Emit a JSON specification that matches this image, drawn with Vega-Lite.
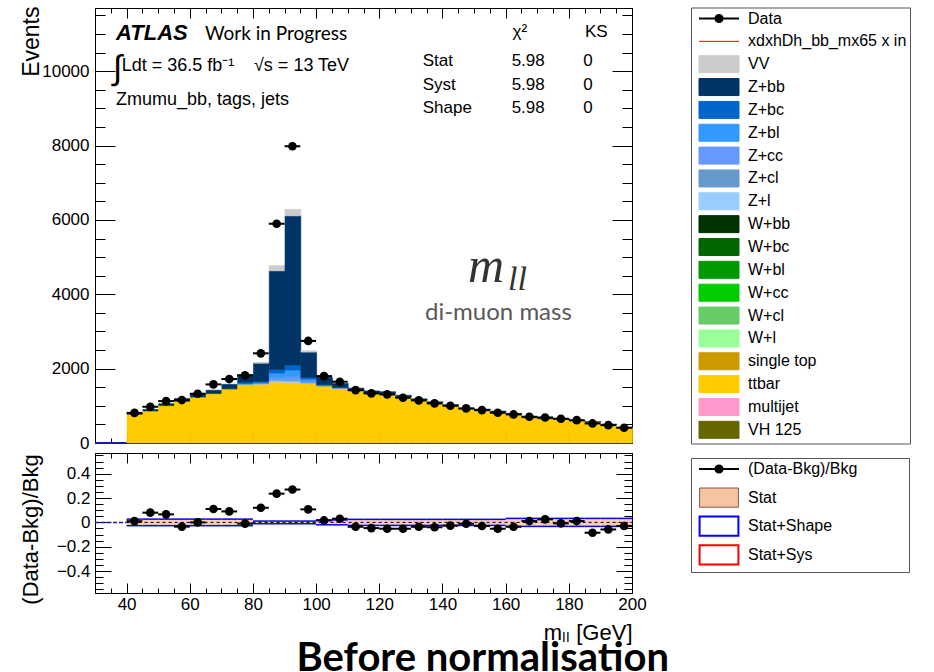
{
  "$schema": "https://vega.github.io/schema/vega-lite/v6.json",
  "background": "white",
  "padding": {"left": 19, "top": 6, "right": 0, "bottom": 0},
  "spacing": 10,
  "bounds": "flush",
  "title": {"text": "Before normalisation", "orient": "bottom", "anchor": "middle", "font": "Lato", "fontSize": 40, "fontWeight": "bold", "color": "black", "dx": 18, "offset": -4},
  "resolve": {"scale": {"color": "independent", "stroke": "independent"}},
  "config": {
    "font": "Liberation Sans",
    "view": {"stroke": null},
    "axis": {"grid": false, "domainColor": "black", "tickColor": "black", "labelColor": "black", "titleColor": "black", "labelFont": "Liberation Sans", "titleFont": "Liberation Sans", "titleFontWeight": "normal", "zindex": 2}
  },
  "datasets": {
    "bins": [
      {"lo": 40, "hi": 45, "c": 42.5, "n": 810, "r": 0.01, "elo": -0.027, "ehi": 0.027},
      {"lo": 45, "hi": 50, "c": 47.5, "n": 975, "r": 0.08, "elo": -0.027, "ehi": 0.027},
      {"lo": 50, "hi": 55, "c": 52.5, "n": 1127, "r": 0.066, "elo": -0.027, "ehi": 0.027},
      {"lo": 55, "hi": 60, "c": 57.5, "n": 1155, "r": -0.035, "elo": -0.027, "ehi": 0.027},
      {"lo": 60, "hi": 65, "c": 62.5, "n": 1325, "r": 0.0, "elo": -0.027, "ehi": 0.027},
      {"lo": 65, "hi": 70, "c": 67.5, "n": 1576, "r": 0.11, "elo": -0.027, "ehi": 0.027},
      {"lo": 70, "hi": 75, "c": 72.5, "n": 1720, "r": 0.09, "elo": -0.027, "ehi": 0.027},
      {"lo": 75, "hi": 80, "c": 77.5, "n": 1820, "r": -0.01, "elo": -0.027, "ehi": 0.027},
      {"lo": 80, "hi": 85, "c": 82.5, "n": 2412, "r": 0.12, "elo": -0.011, "ehi": 0.011},
      {"lo": 85, "hi": 90, "c": 87.5, "n": 5897, "r": 0.236, "elo": -0.011, "ehi": 0.011},
      {"lo": 90, "hi": 95, "c": 92.5, "n": 7982, "r": 0.27, "elo": -0.011, "ehi": 0.011},
      {"lo": 95, "hi": 100, "c": 97.5, "n": 2745, "r": 0.107, "elo": -0.011, "ehi": 0.011},
      {"lo": 100, "hi": 105, "c": 102.5, "n": 1800, "r": 0.016, "elo": -0.02, "ehi": 0.02},
      {"lo": 105, "hi": 110, "c": 107.5, "n": 1648, "r": 0.03, "elo": -0.02, "ehi": 0.02},
      {"lo": 110, "hi": 115, "c": 112.5, "n": 1423, "r": -0.036, "elo": -0.025, "ehi": 0.025},
      {"lo": 115, "hi": 120, "c": 117.5, "n": 1334, "r": -0.047, "elo": -0.025, "ehi": 0.025},
      {"lo": 120, "hi": 125, "c": 122.5, "n": 1307, "r": -0.052, "elo": -0.025, "ehi": 0.025},
      {"lo": 125, "hi": 130, "c": 127.5, "n": 1218, "r": -0.052, "elo": -0.025, "ehi": 0.025},
      {"lo": 130, "hi": 135, "c": 132.5, "n": 1145, "r": -0.036, "elo": -0.025, "ehi": 0.025},
      {"lo": 135, "hi": 140, "c": 137.5, "n": 1065, "r": -0.04, "elo": -0.025, "ehi": 0.025},
      {"lo": 140, "hi": 145, "c": 142.5, "n": 1002, "r": -0.027, "elo": -0.025, "ehi": 0.025},
      {"lo": 145, "hi": 150, "c": 147.5, "n": 930, "r": -0.011, "elo": -0.025, "ehi": 0.025},
      {"lo": 150, "hi": 155, "c": 152.5, "n": 884, "r": -0.03, "elo": -0.025, "ehi": 0.025},
      {"lo": 155, "hi": 160, "c": 157.5, "n": 814, "r": -0.052, "elo": -0.025, "ehi": 0.025},
      {"lo": 160, "hi": 165, "c": 162.5, "n": 768, "r": -0.036, "elo": -0.033, "ehi": 0.033},
      {"lo": 165, "hi": 170, "c": 167.5, "n": 706, "r": 0.011, "elo": -0.033, "ehi": 0.033},
      {"lo": 170, "hi": 175, "c": 172.5, "n": 687, "r": 0.025, "elo": -0.033, "ehi": 0.033},
      {"lo": 175, "hi": 180, "c": 177.5, "n": 652, "r": -0.008, "elo": -0.033, "ehi": 0.033},
      {"lo": 180, "hi": 185, "c": 182.5, "n": 614, "r": 0.011, "elo": -0.033, "ehi": 0.033},
      {"lo": 185, "hi": 190, "c": 187.5, "n": 526, "r": -0.085, "elo": -0.033, "ehi": 0.033},
      {"lo": 190, "hi": 195, "c": 192.5, "n": 480, "r": -0.058, "elo": -0.033, "ehi": 0.033},
      {"lo": 195, "hi": 200, "c": 197.5, "n": 410, "r": -0.03, "elo": -0.033, "ehi": 0.033}
    ],
    "stack": [
      {"lo": 40, "hi": 45, "p": "ttbar", "v": 770}, {"lo": 40, "hi": 45, "p": "Z+bb", "v": 32},
      {"lo": 45, "hi": 50, "p": "ttbar", "v": 860}, {"lo": 45, "hi": 50, "p": "Z+bb", "v": 43},
      {"lo": 50, "hi": 55, "p": "ttbar", "v": 1005}, {"lo": 50, "hi": 55, "p": "Z+bb", "v": 52},
      {"lo": 55, "hi": 60, "p": "ttbar", "v": 1120}, {"lo": 55, "hi": 60, "p": "Z+bb", "v": 77},
      {"lo": 60, "hi": 65, "p": "ttbar", "v": 1235}, {"lo": 60, "hi": 65, "p": "Z+bb", "v": 90},
      {"lo": 65, "hi": 70, "p": "ttbar", "v": 1330}, {"lo": 65, "hi": 70, "p": "Z+bb", "v": 90},
      {"lo": 70, "hi": 75, "p": "ttbar", "v": 1455}, {"lo": 70, "hi": 75, "p": "Z+bb", "v": 123},
      {"lo": 75, "hi": 80, "p": "ttbar", "v": 1578}, {"lo": 75, "hi": 80, "p": "Z+bb", "v": 220}, {"lo": 75, "hi": 80, "p": "Z+bl", "v": 20}, {"lo": 75, "hi": 80, "p": "Z+bc", "v": 20},
      {"lo": 80, "hi": 85, "p": "ttbar", "v": 1585}, {"lo": 80, "hi": 85, "p": "Z+l", "v": 8}, {"lo": 80, "hi": 85, "p": "Z+cc", "v": 10}, {"lo": 80, "hi": 85, "p": "Z+bl", "v": 25}, {"lo": 80, "hi": 85, "p": "Z+bc", "v": 30}, {"lo": 80, "hi": 85, "p": "Z+bb", "v": 490}, {"lo": 80, "hi": 85, "p": "VV", "v": 5},
      {"lo": 85, "hi": 90, "p": "ttbar", "v": 1640}, {"lo": 85, "hi": 90, "p": "Z+l", "v": 40}, {"lo": 85, "hi": 90, "p": "Z+cl", "v": 30}, {"lo": 85, "hi": 90, "p": "Z+cc", "v": 50}, {"lo": 85, "hi": 90, "p": "Z+bl", "v": 120}, {"lo": 85, "hi": 90, "p": "Z+bc", "v": 100}, {"lo": 85, "hi": 90, "p": "Z+bb", "v": 2650}, {"lo": 85, "hi": 90, "p": "VV", "v": 140},
      {"lo": 90, "hi": 95, "p": "ttbar", "v": 1620}, {"lo": 90, "hi": 95, "p": "Z+l", "v": 50}, {"lo": 90, "hi": 95, "p": "Z+cl", "v": 40}, {"lo": 90, "hi": 95, "p": "Z+cc", "v": 70}, {"lo": 90, "hi": 95, "p": "Z+bl", "v": 180}, {"lo": 90, "hi": 95, "p": "Z+bc", "v": 140}, {"lo": 90, "hi": 95, "p": "Z+bb", "v": 4010}, {"lo": 90, "hi": 95, "p": "VV", "v": 175},
      {"lo": 95, "hi": 100, "p": "ttbar", "v": 1600}, {"lo": 95, "hi": 100, "p": "Z+l", "v": 15}, {"lo": 95, "hi": 100, "p": "Z+cl", "v": 15}, {"lo": 95, "hi": 100, "p": "Z+cc", "v": 30}, {"lo": 95, "hi": 100, "p": "Z+bl", "v": 60}, {"lo": 95, "hi": 100, "p": "Z+bc", "v": 45}, {"lo": 95, "hi": 100, "p": "Z+bb", "v": 680}, {"lo": 95, "hi": 100, "p": "VV", "v": 35},
      {"lo": 100, "hi": 105, "p": "ttbar", "v": 1530}, {"lo": 100, "hi": 105, "p": "Z+bl", "v": 25}, {"lo": 100, "hi": 105, "p": "Z+bc", "v": 17}, {"lo": 100, "hi": 105, "p": "Z+bb", "v": 200},
      {"lo": 105, "hi": 110, "p": "ttbar", "v": 1470}, {"lo": 105, "hi": 110, "p": "Z+bl", "v": 20}, {"lo": 105, "hi": 110, "p": "Z+bb", "v": 110},
      {"lo": 110, "hi": 115, "p": "ttbar", "v": 1400}, {"lo": 110, "hi": 115, "p": "Z+bb", "v": 76},
      {"lo": 115, "hi": 120, "p": "ttbar", "v": 1340}, {"lo": 115, "hi": 120, "p": "Z+bb", "v": 60},
      {"lo": 120, "hi": 125, "p": "ttbar", "v": 1325}, {"lo": 120, "hi": 125, "p": "Z+bb", "v": 54},
      {"lo": 125, "hi": 130, "p": "ttbar", "v": 1240}, {"lo": 125, "hi": 130, "p": "Z+bb", "v": 45},
      {"lo": 130, "hi": 135, "p": "ttbar", "v": 1150}, {"lo": 130, "hi": 135, "p": "Z+bb", "v": 38},
      {"lo": 135, "hi": 140, "p": "ttbar", "v": 1075}, {"lo": 135, "hi": 140, "p": "Z+bb", "v": 34},
      {"lo": 140, "hi": 145, "p": "ttbar", "v": 1000}, {"lo": 140, "hi": 145, "p": "Z+bb", "v": 30},
      {"lo": 145, "hi": 150, "p": "ttbar", "v": 913}, {"lo": 145, "hi": 150, "p": "Z+bb", "v": 27},
      {"lo": 150, "hi": 155, "p": "ttbar", "v": 886}, {"lo": 150, "hi": 155, "p": "Z+bb", "v": 25},
      {"lo": 155, "hi": 160, "p": "ttbar", "v": 836}, {"lo": 155, "hi": 160, "p": "Z+bb", "v": 23},
      {"lo": 160, "hi": 165, "p": "ttbar", "v": 776}, {"lo": 160, "hi": 165, "p": "Z+bb", "v": 21},
      {"lo": 165, "hi": 170, "p": "ttbar", "v": 679}, {"lo": 165, "hi": 170, "p": "Z+bb", "v": 19},
      {"lo": 170, "hi": 175, "p": "ttbar", "v": 652}, {"lo": 170, "hi": 175, "p": "Z+bb", "v": 18},
      {"lo": 175, "hi": 180, "p": "ttbar", "v": 640}, {"lo": 175, "hi": 180, "p": "Z+bb", "v": 17},
      {"lo": 180, "hi": 185, "p": "ttbar", "v": 591}, {"lo": 180, "hi": 185, "p": "Z+bb", "v": 16},
      {"lo": 185, "hi": 190, "p": "ttbar", "v": 560}, {"lo": 185, "hi": 190, "p": "Z+bb", "v": 15},
      {"lo": 190, "hi": 195, "p": "ttbar", "v": 496}, {"lo": 190, "hi": 195, "p": "Z+bb", "v": 14},
      {"lo": 195, "hi": 200, "p": "ttbar", "v": 410}, {"lo": 195, "hi": 200, "p": "Z+bb", "v": 13}
    ]
  },
  "vconcat": [
    {
      "width": 537,
      "height": 435,
      "resolve": {"axis": {"x": "independent", "y": "independent"}},
      "layer": [
        {
          "data": {"name": "stack"},
          "mark": {"type": "bar", "binSpacing": 0, "strokeWidth": 0.6},
          "encoding": {
            "x": {"field": "lo", "type": "quantitative", "bin": {"binned": true, "step": 5}, "scale": {"domain": [30, 200], "nice": false, "zero": false},
                  "axis": {"orient": "bottom", "values": [40, 60, 80, 100, 120, 140, 160, 180, 200], "labels": false, "tickSize": -10, "title": null, "domain": true}},
            "x2": {"field": "hi"},
            "y": {"field": "v", "type": "quantitative", "stack": "zero", "scale": {"domain": [0, 11700], "nice": false},
                  "axis": {"orient": "left", "values": [0, 2000, 4000, 6000, 8000, 10000], "format": "d", "ticks": false, "domain": false, "labelPadding": 6, "labelFontSize": 17, "title": "Events", "titleFontSize": 23, "titleAngle": 270, "titleAlign": "right", "titleBaseline": "alphabetic", "titleX": -57, "titleY": -2}},
            "order": {"field": "p", "sort": "descending"},
            "color": {"field": "p", "type": "nominal",
                      "scale": {"domain": ["Data", "xdxhDh_bb_mx65 x in", "VV", "Z+bb", "Z+bc", "Z+bl", "Z+cc", "Z+cl", "Z+l", "W+bb", "W+bc", "W+bl", "W+cc", "W+cl", "W+l", "single top", "ttbar", "multijet", "VH 125"],
                                "range": ["#000000", "#ff0000", "#cccccc", "#003366", "#0066cc", "#3399ff", "#6699ff", "#6699cc", "#99ccff", "#003300", "#006600", "#009900", "#00cc00", "#66cc66", "#99ff99", "#cc9900", "#ffcc00", "#ff99cc", "#666600"]},
                      "legend": {
                        "orient": "none", "legendX": 596, "legendY": -0.5, "title": null, "direction": "vertical", "gridAlign": "all",
                        "padding": 3, "rowPadding": 0.85, "symbolSize": 1600, "symbolOffset": 17, "labelOffset": 21,
                        "labelFont": "Liberation Sans", "labelFontSize": 16, "labelColor": "black", "labelLimit": 300,
                        "strokeColor": "#555555", "fillColor": "white", "symbolStrokeWidth": 1.5,
                        "encode": {"symbols": {"update": {
                          "shape": {"signal": "datum.value === 'Data' ? 'M-1,0H1M-0.18,0A0.18,0.18,0,1,0,0.18,0A0.18,0.18,0,1,0,-0.18,0Z' : (datum.value === 'xdxhDh_bb_mx65 x in' ? 'M-1,0H1' : 'M-1,-0.425H1V0.425H-1Z')"},
                          "stroke": {"signal": "datum.value === 'Data' ? 'black' : (datum.value === 'xdxhDh_bb_mx65 x in' ? '#ff0000' : 'transparent')"},
                          "strokeWidth": {"signal": "datum.value === 'Data' ? 2 : 1"}
                        }}}
                      }},
            "stroke": {"field": "p", "type": "nominal",
                       "scale": {"domain": ["Data", "xdxhDh_bb_mx65 x in", "VV", "Z+bb", "Z+bc", "Z+bl", "Z+cc", "Z+cl", "Z+l", "W+bb", "W+bc", "W+bl", "W+cc", "W+cl", "W+l", "single top", "ttbar", "multijet", "VH 125"],
                                 "range": ["#000000", "#ff0000", "#cccccc", "#003366", "#0066cc", "#3399ff", "#6699ff", "#6699cc", "#99ccff", "#003300", "#006600", "#009900", "#00cc00", "#66cc66", "#99ff99", "#cc9900", "#ffcc00", "#ff99cc", "#666600"]},
                       "legend": null}
          }
        },
        {
          "data": {"name": "bins"},
          "mark": {"type": "rule", "color": "black", "strokeWidth": 2},
          "encoding": {
            "x": {"field": "lo", "type": "quantitative", "axis": {"orient": "bottom", "values": [30, 35, 40, 45, 50, 55, 60, 65, 70, 75, 80, 85, 90, 95, 100, 105, 110, 115, 120, 125, 130, 135, 140, 145, 150, 155, 160, 165, 170, 175, 180, 185, 190, 195, 200], "labels": false, "tickSize": -5, "title": null, "domain": false}},
            "x2": {"field": "hi"},
            "y": {"field": "n", "type": "quantitative", "axis": {"orient": "left", "values": [0, 2000, 4000, 6000, 8000, 10000], "labels": false, "tickSize": -20, "title": null, "domain": true}}
          }
        },
        {
          "data": {"name": "bins"},
          "mark": {"type": "circle", "size": 75, "color": "black", "opacity": 1},
          "encoding": {
            "x": {"field": "c", "type": "quantitative", "axis": {"orient": "top", "values": [40, 60, 80, 100, 120, 140, 160, 180, 200], "labels": false, "tickSize": -10, "title": null, "domain": true}},
            "y": {"field": "n", "type": "quantitative", "axis": {"orient": "left", "values": [0, 500, 1000, 1500, 2000, 2500, 3000, 3500, 4000, 4500, 5000, 5500, 6000, 6500, 7000, 7500, 8000, 8500, 9000, 9500, 10000, 10500, 11000, 11500], "labels": false, "tickSize": -10, "title": null, "domain": false}}
          }
        },
        {
          "data": {"values": [{}]},
          "mark": {"type": "rule", "color": "#1a1aa0", "strokeWidth": 2},
          "encoding": {
            "x": {"datum": 30, "type": "quantitative", "axis": {"orient": "top", "values": [30, 35, 40, 45, 50, 55, 60, 65, 70, 75, 80, 85, 90, 95, 100, 105, 110, 115, 120, 125, 130, 135, 140, 145, 150, 155, 160, 165, 170, 175, 180, 185, 190, 195, 200], "labels": false, "tickSize": -5, "title": null, "domain": false}},
            "x2": {"datum": 40},
            "y": {"datum": 0, "type": "quantitative", "axis": {"orient": "right", "values": [0, 2000, 4000, 6000, 8000, 10000], "labels": false, "tickSize": -20, "title": null, "domain": true}}
          }
        },
        {
          "data": {"values": [{}]},
          "mark": {"type": "text", "text": "ATLAS", "font": "Liberation Sans", "fontSize": 22, "fontWeight": "bold", "fontStyle": "italic", "align": "left", "baseline": "alphabetic", "color": "black"},
          "encoding": {
            "x": {"datum": 36.65, "type": "quantitative", "axis": null},
            "y": {"datum": 10839, "type": "quantitative", "axis": {"orient": "right", "values": [0, 500, 1000, 1500, 2000, 2500, 3000, 3500, 4000, 4500, 5000, 5500, 6000, 6500, 7000, 7500, 8000, 8500, 9000, 9500, 10000, 10500, 11000, 11500], "labels": false, "tickSize": -10, "title": null, "domain": false}}
          }
        },
        {
          "data": {"values": [{}]},
          "mark": {"type": "text", "text": "Work in Progress", "font": "Lato", "fontSize": 19, "align": "left", "baseline": "alphabetic", "color": "black"},
          "encoding": {"x": {"datum": 64.82, "type": "quantitative", "axis": null}, "y": {"datum": 10839, "type": "quantitative", "axis": null}}
        },
        {
          "data": {"values": [{}]},
          "mark": {"type": "text", "text": "∫", "font": "Liberation Sans", "fontSize": 34, "align": "left", "baseline": "alphabetic", "color": "black"},
          "encoding": {"x": {"datum": 35.7, "type": "quantitative", "axis": null}, "y": {"datum": 9790, "type": "quantitative", "axis": null}}
        },
        {
          "data": {"values": [{}]},
          "mark": {"type": "text", "text": "Ldt = 36.5 fb⁻¹", "font": "Liberation Sans", "fontSize": 18, "align": "left", "baseline": "alphabetic", "color": "black"},
          "encoding": {"x": {"datum": 38.45, "type": "quantitative", "axis": null}, "y": {"datum": 10012, "type": "quantitative", "axis": null}}
        },
        {
          "data": {"values": [{}]},
          "mark": {"type": "text", "text": "√s = 13 TeV", "font": "Liberation Sans", "fontSize": 18, "align": "left", "baseline": "alphabetic", "color": "black"},
          "encoding": {"x": {"datum": 80.33, "type": "quantitative", "axis": null}, "y": {"datum": 10012, "type": "quantitative", "axis": null}}
        },
        {
          "data": {"values": [{}]},
          "mark": {"type": "text", "text": "Zmumu_bb,  tags,  jets", "font": "Liberation Sans", "fontSize": 18, "align": "left", "baseline": "alphabetic", "color": "black"},
          "encoding": {"x": {"datum": 36.65, "type": "quantitative", "axis": null}, "y": {"datum": 9099, "type": "quantitative", "axis": null}}
        },
        {
          "data": {"values": [{}]},
          "mark": {"type": "text", "text": "χ²", "font": "Liberation Sans", "fontSize": 17, "align": "left", "baseline": "alphabetic", "color": "black"},
          "encoding": {"x": {"datum": 162.2, "type": "quantitative", "axis": null}, "y": {"datum": 10920, "type": "quantitative", "axis": null}}
        },
        {
          "data": {"values": [{}]},
          "mark": {"type": "text", "text": "KS", "font": "Liberation Sans", "fontSize": 17, "align": "left", "baseline": "alphabetic", "color": "black"},
          "encoding": {"x": {"datum": 185.1, "type": "quantitative", "axis": null}, "y": {"datum": 10920, "type": "quantitative", "axis": null}}
        },
        {
          "data": {"values": [{}]},
          "mark": {"type": "text", "text": ["Stat", "Syst", "Shape"], "lineHeight": 23.5, "font": "Liberation Sans", "fontSize": 17, "align": "left", "baseline": "alphabetic", "color": "black"},
          "encoding": {"x": {"datum": 133.74, "type": "quantitative", "axis": null}, "y": {"datum": 10140, "type": "quantitative", "axis": null}}
        },
        {
          "data": {"values": [{}]},
          "mark": {"type": "text", "text": ["5.98", "5.98", "5.98"], "lineHeight": 23.5, "font": "Liberation Sans", "fontSize": 17, "align": "left", "baseline": "alphabetic", "color": "black"},
          "encoding": {"x": {"datum": 161.9, "type": "quantitative", "axis": null}, "y": {"datum": 10140, "type": "quantitative", "axis": null}}
        },
        {
          "data": {"values": [{}]},
          "mark": {"type": "text", "text": ["0", "0", "0"], "lineHeight": 23.5, "font": "Liberation Sans", "fontSize": 17, "align": "left", "baseline": "alphabetic", "color": "black"},
          "encoding": {"x": {"datum": 184.6, "type": "quantitative", "axis": null}, "y": {"datum": 10140, "type": "quantitative", "axis": null}}
        },
        {
          "data": {"values": [{}]},
          "mark": {"type": "text", "text": "m", "font": "Liberation Serif", "fontSize": 50, "fontStyle": "italic", "align": "left", "baseline": "alphabetic", "color": "#333333"},
          "encoding": {"x": {"datum": 148.1, "type": "quantitative", "axis": null}, "y": {"datum": 4322, "type": "quantitative", "axis": null}}
        },
        {
          "data": {"values": [{}]},
          "mark": {"type": "text", "text": "ll", "font": "Liberation Serif", "fontSize": 34, "fontStyle": "italic", "align": "left", "baseline": "alphabetic", "color": "#333333"},
          "encoding": {"x": {"datum": 160.74, "type": "quantitative", "axis": null}, "y": {"datum": 4115, "type": "quantitative", "axis": null}}
        },
        {
          "data": {"values": [{}]},
          "mark": {"type": "text", "text": "di-muon mass", "font": "Lato", "fontSize": 24, "align": "left", "baseline": "alphabetic", "color": "#595959"},
          "encoding": {"x": {"datum": 134.47, "type": "quantitative", "axis": null}, "y": {"datum": 3316, "type": "quantitative", "axis": null}}
        }
      ]
    },
    {
      "width": 537,
      "height": 140,
      "resolve": {"axis": {"x": "independent", "y": "independent"}},
      "layer": [
        {
          "data": {"name": "bins"},
          "mark": {"type": "rect", "opacity": 0.85},
          "encoding": {
            "x": {"field": "lo", "type": "quantitative", "scale": {"domain": [30, 200], "nice": false, "zero": false},
                  "axis": {"orient": "bottom", "values": [40, 60, 80, 100, 120, 140, 160, 180, 200], "format": "d", "ticks": false, "domain": false, "labelPadding": 3, "labelFontSize": 17, "labelFlush": false, "title": "mₗₗ [GeV]", "titleFontSize": 22, "titleAnchor": "end", "titleAlign": "right", "titleBaseline": "alphabetic", "titleX": 537, "titleY": 46}},
            "x2": {"field": "hi"},
            "y": {"field": "elo", "type": "quantitative", "scale": {"domain": [-0.58, 0.57], "nice": false, "zero": false},
                  "axis": {"orient": "left", "values": [-0.4, -0.2, 0, 0.2, 0.4], "format": "~g", "ticks": false, "domain": false, "labelPadding": 5, "labelFontSize": 17, "title": "(Data-Bkg)/Bkg", "titleFontSize": 22, "titleAngle": 270, "titleAlign": "center", "titleBaseline": "alphabetic", "titleX": -58, "titleY": 76}},
            "y2": {"field": "ehi"},
            "color": {"datum": "Stat", "type": "nominal",
                      "scale": {"domain": ["(Data-Bkg)/Bkg", "Stat", "Stat+Shape", "Stat+Sys"], "range": ["#000000", "#f7c4a2", "#ffffff", "#ffffff"]},
                      "legend": {
                        "orient": "none", "legendX": 596, "legendY": 5, "direction": "vertical", "gridAlign": "all",
                        "title": "MMM", "titleOrient": "right", "titleColor": "transparent", "titleFontSize": 16, "titlePadding": 9,
                        "padding": 3, "rowPadding": 0.6, "symbolSize": 1600, "symbolOffset": 17, "labelOffset": 21,
                        "labelFont": "Liberation Sans", "labelFontSize": 16, "labelColor": "black", "labelLimit": 300,
                        "strokeColor": "#555555", "fillColor": "white", "symbolStrokeWidth": 2, "symbolOpacity": 1,
                        "encode": {"symbols": {"update": {
                          "shape": {"signal": "datum.value === '(Data-Bkg)/Bkg' ? 'M-1,0H1M-0.18,0A0.18,0.18,0,1,0,0.18,0A0.18,0.18,0,1,0,-0.18,0Z' : 'M-0.97,-0.48H0.97V0.48H-0.97Z'"},
                          "stroke": {"signal": "datum.value === 'Stat+Shape' ? '#0000ff' : (datum.value === 'Stat+Sys' ? '#ff0000' : (datum.value === 'Stat' ? '#7a5a4a' : 'black'))"},
                          "strokeWidth": {"signal": "datum.value === 'Stat' ? 1 : 2"},
                          "opacity": {"value": 1}
                        }}}
                      }}
          }
        },
        {
          "data": {"name": "bins"},
          "mark": {"type": "rule", "strokeWidth": 1.5, "color": "#0000ff"},
          "encoding": {
            "x": {"field": "lo", "type": "quantitative", "axis": {"orient": "bottom", "values": [40, 60, 80, 100, 120, 140, 160, 180, 200], "labels": false, "tickSize": -10, "title": null, "domain": true}},
            "x2": {"field": "hi"},
            "y": {"field": "ehi", "type": "quantitative", "axis": {"orient": "left", "values": [-0.4, -0.2, 0, 0.2, 0.4], "labels": false, "tickSize": -16, "title": null, "domain": true}}
          }
        },
        {
          "data": {"name": "bins"},
          "mark": {"type": "rule", "strokeWidth": 1.5, "color": "#0000ff"},
          "encoding": {
            "x": {"field": "lo", "type": "quantitative", "axis": {"orient": "bottom", "values": [30, 35, 40, 45, 50, 55, 60, 65, 70, 75, 80, 85, 90, 95, 100, 105, 110, 115, 120, 125, 130, 135, 140, 145, 150, 155, 160, 165, 170, 175, 180, 185, 190, 195, 200], "labels": false, "tickSize": -5, "title": null, "domain": false}},
            "x2": {"field": "hi"},
            "y": {"field": "elo", "type": "quantitative", "axis": {"orient": "left", "values": [-0.55, -0.5, -0.45, -0.4, -0.35, -0.3, -0.25, -0.2, -0.15, -0.1, -0.05, 0, 0.05, 0.1, 0.15, 0.2, 0.25, 0.3, 0.35, 0.4, 0.45, 0.5, 0.55], "labels": false, "tickSize": -8, "title": null, "domain": false}}
          }
        },
        {
          "data": {"values": [{}]},
          "mark": {"type": "rule", "color": "black", "strokeDash": [3, 3], "strokeWidth": 1},
          "encoding": {
            "x": {"datum": 40, "type": "quantitative", "axis": {"orient": "top", "values": [40, 60, 80, 100, 120, 140, 160, 180, 200], "labels": false, "tickSize": -10, "title": null, "domain": true}},
            "x2": {"datum": 200},
            "y": {"datum": 0, "type": "quantitative", "axis": {"orient": "right", "values": [-0.4, -0.2, 0, 0.2, 0.4], "labels": false, "tickSize": -16, "title": null, "domain": true}}
          }
        },
        {
          "data": {"name": "bins"},
          "mark": {"type": "rule", "color": "black", "strokeWidth": 2},
          "encoding": {
            "x": {"field": "lo", "type": "quantitative", "axis": {"orient": "top", "values": [30, 35, 40, 45, 50, 55, 60, 65, 70, 75, 80, 85, 90, 95, 100, 105, 110, 115, 120, 125, 130, 135, 140, 145, 150, 155, 160, 165, 170, 175, 180, 185, 190, 195, 200], "labels": false, "tickSize": -5, "title": null, "domain": false}},
            "x2": {"field": "hi"},
            "y": {"field": "r", "type": "quantitative", "axis": {"orient": "right", "values": [-0.55, -0.5, -0.45, -0.4, -0.35, -0.3, -0.25, -0.2, -0.15, -0.1, -0.05, 0, 0.05, 0.1, 0.15, 0.2, 0.25, 0.3, 0.35, 0.4, 0.45, 0.5, 0.55], "labels": false, "tickSize": -8, "title": null, "domain": false}}
          }
        },
        {
          "data": {"name": "bins"},
          "mark": {"type": "circle", "size": 75, "opacity": 1},
          "encoding": {
            "x": {"field": "c", "type": "quantitative", "axis": null},
            "y": {"field": "r", "type": "quantitative", "axis": null},
            "color": {"datum": "(Data-Bkg)/Bkg", "type": "nominal", "legend": null}
          }
        },
        {
          "data": {"values": [{}]},
          "mark": {"type": "rule", "color": "#1a1aa0", "strokeWidth": 1.5, "strokeDash": [4, 2]},
          "encoding": {
            "x": {"datum": 30, "type": "quantitative", "axis": null},
            "x2": {"datum": 40},
            "y": {"datum": 0, "type": "quantitative", "axis": null}
          }
        }
      ]
    }
  ]
}
